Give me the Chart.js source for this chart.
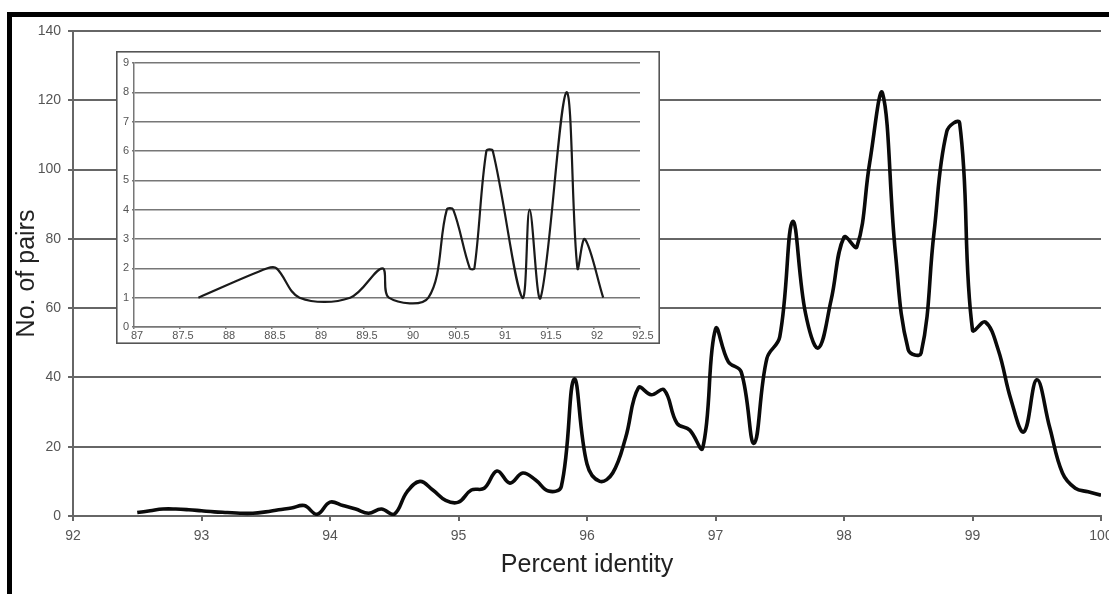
<!DOCTYPE html>
<html>
<head>
<meta charset="utf-8">
<script src="https://cdn.jsdelivr.net/npm/chart.js@4.4.1/dist/chart.umd.min.js"></script>
<style>
  html, body { margin:0; padding:0; background:#fff; }
  #wrap { position:relative; width:1109px; height:594px; overflow:hidden; background:#fff; }
  #main { position:absolute; left:0; top:0; }
  #inset { position:absolute; left:116px; top:51px; }
  #frame { position:absolute; left:7px; top:12px; width:1110px; height:590px;
           border-top:5px solid #000; border-left:5px solid #000; pointer-events:none; }
</style>
</head>
<body>
<div id="wrap">
  <canvas id="main" width="1109" height="594"></canvas>
  <canvas id="inset" width="544" height="293"></canvas>
  <div id="frame"></div>
</div>
<script>
// ---- Main chart data ----
const mainX = [92.5,92.6,92.7,92.8,92.9,93.0,93.1,93.2,93.3,93.4,93.5,93.6,93.7,93.8,93.9,
  94.0,94.1,94.2,94.3,94.4,94.5,94.6,94.7,94.8,94.9,95.0,95.1,95.2,95.3,95.4,95.5,95.6,95.7,95.8,95.9,
  96.0,96.1,96.2,96.3,96.4,96.5,96.6,96.7,96.8,96.9,97.0,97.1,97.2,97.3,97.4,97.5,97.6,97.7,97.8,97.9,
  98.0,98.1,98.2,98.3,98.4,98.5,98.6,98.7,98.8,98.9,99.0,99.1,99.2,99.3,99.4,99.5,99.6,99.7,99.8,99.9,100.0];
const mainPairs = [1,1.5,2,2,1.8,1.5,1.2,1,0.8,0.8,1.2,1.8,2.3,3,0.5,
  4,3,2,0.8,2,0.5,7,10,7.5,4.5,4,7.5,8,13,9.5,12.4,10.4,7.2,8.5,39.5,
  15,10,12.4,22.5,37,35,36.4,26.8,24.8,19.6,54,44.5,41.6,21,45.5,51.7,85,58.6,48.5,62.4,
  80.5,77.7,102,122,76,48,47,81.6,111,113.4,53.7,56,48,33.5,24.3,39.3,25.7,12.4,8,7,6];
const mainXTicks = [92,93,94,95,96,97,98,99,100];
const mainYTicks = [0,20,40,60,80,100,120,140];

// ---- Inset chart data ----
const insetX = [87.7,88.45,88.55,88.8,89.35,89.7,89.77,90.2,90.4,90.47,90.65,90.7,90.83,90.9,91.22,91.3,91.42,91.7,91.82,91.9,92.1];
const insetPairs = [1,2,2,1,1,2,1,1,4,4,2,2,6,6,1,4,1,8,2,3,1];
const insetXTicks = [87,87.5,88,88.5,89,89.5,90,90.5,91,91.5,92,92.5];
const insetYTicks = [0,1,2,3,4,5,6,7,8,9];

const FAM = '"Liberation Sans", Arial, sans-serif';
const whiteBg = {
  id:'whiteBg',
  beforeDraw(c){ const x=c.ctx; x.save(); x.fillStyle='#fff'; x.fillRect(0,0,c.width,c.height); x.restore(); }
};
const boxBorder = {
  id:'boxBorder',
  afterDraw(c){ const x=c.ctx; x.save(); x.strokeStyle='#555'; x.lineWidth=1.6;
    x.strokeRect(0.8,0.8,c.width-1.6,c.height-1.6); x.restore(); }
};

new Chart(document.getElementById('main'), {
  type:'line',
  data:{ datasets:[{ data: mainX.map((v,i)=>({x:v, y:mainPairs[i]})),
    borderColor:'#0a0a0a', borderWidth:3.6, pointRadius:0, tension:0.4, fill:false }]},
  options:{
    responsive:false, animation:false, devicePixelRatio:1,
    layout:{ padding:{ left:10, top:31, right:8, bottom:0 } },
    plugins:{ legend:{display:false}, tooltip:{enabled:false} },
    scales:{
      x:{ type:'linear', min:92, max:100,
        afterBuildTicks(s){ s.ticks = mainXTicks.map(v=>({value:v})); },
        ticks:{ color:'#555', font:{size:14, family:FAM}, padding:7, maxRotation:0, autoSkip:false,
          callback:v=>String(v) },
        grid:{ drawOnChartArea:false, drawTicks:true, tickLength:5, color:'#666', lineWidth:2 },
        border:{ display:true, color:'#666', width:2 },
        title:{ display:true, text:'Percent identity', color:'#222', font:{size:25, family:FAM}, padding:{top:0,bottom:14} },
        afterFit(s){ s.height = 78; s.paddingLeft = 0; s.paddingRight = 0; } },
      y:{ type:'linear', min:0, max:140,
        afterBuildTicks(s){ s.ticks = mainYTicks.map(v=>({value:v})); },
        ticks:{ color:'#555', font:{size:14, family:FAM}, padding:7 },
        grid:{ color:'#666', lineWidth:2, tickLength:5, drawTicks:true },
        border:{ display:true, color:'#666', width:2 },
        title:{ display:true, text:'No. of pairs', color:'#222', font:{size:25, family:FAM}, padding:{top:2,bottom:0} },
        afterFit(s){ s.width = 63; s.paddingTop = 0; s.paddingBottom = 0; } }
    }
  },
  plugins:[whiteBg]
});

new Chart(document.getElementById('inset'), {
  type:'line',
  data:{ datasets:[{ data: insetX.map((v,i)=>({x:v, y:insetPairs[i]})),
    borderColor:'#1a1a1a', borderWidth:2.2, pointRadius:0, tension:0.35, fill:false }]},
  options:{
    responsive:false, animation:false, devicePixelRatio:1,
    layout:{ padding:{ left:0, top:12, right:20, bottom:0 } },
    plugins:{ legend:{display:false}, tooltip:{enabled:false} },
    scales:{
      x:{ type:'linear', min:87, max:92.5,
        afterBuildTicks(s){ s.ticks = insetXTicks.map(v=>({value:v})); },
        ticks:{ color:'#555', font:{size:11, family:FAM}, padding:0, labelOffset:3, maxRotation:0, autoSkip:false,
          callback:v=>String(v) },
        grid:{ drawOnChartArea:false, drawTicks:true, tickLength:2, color:'#777', lineWidth:1.5 },
        border:{ display:true, color:'#777', width:1.5 },
        afterFit(s){ s.height = 17; s.paddingLeft = 0; s.paddingRight = 0; } },
      y:{ type:'linear', min:0, max:9,
        afterBuildTicks(s){ s.ticks = insetYTicks.map(v=>({value:v})); },
        ticks:{ color:'#555', font:{size:11, family:FAM}, padding:3 },
        grid:{ color:'#777', lineWidth:1.5, tickLength:2, drawTicks:true },
        border:{ display:true, color:'#777', width:1.5 },
        afterFit(s){ s.width = 18; s.paddingTop = 0; s.paddingBottom = 0; } }
    }
  },
  plugins:[whiteBg, boxBorder]
});
</script>
</body>
</html>
